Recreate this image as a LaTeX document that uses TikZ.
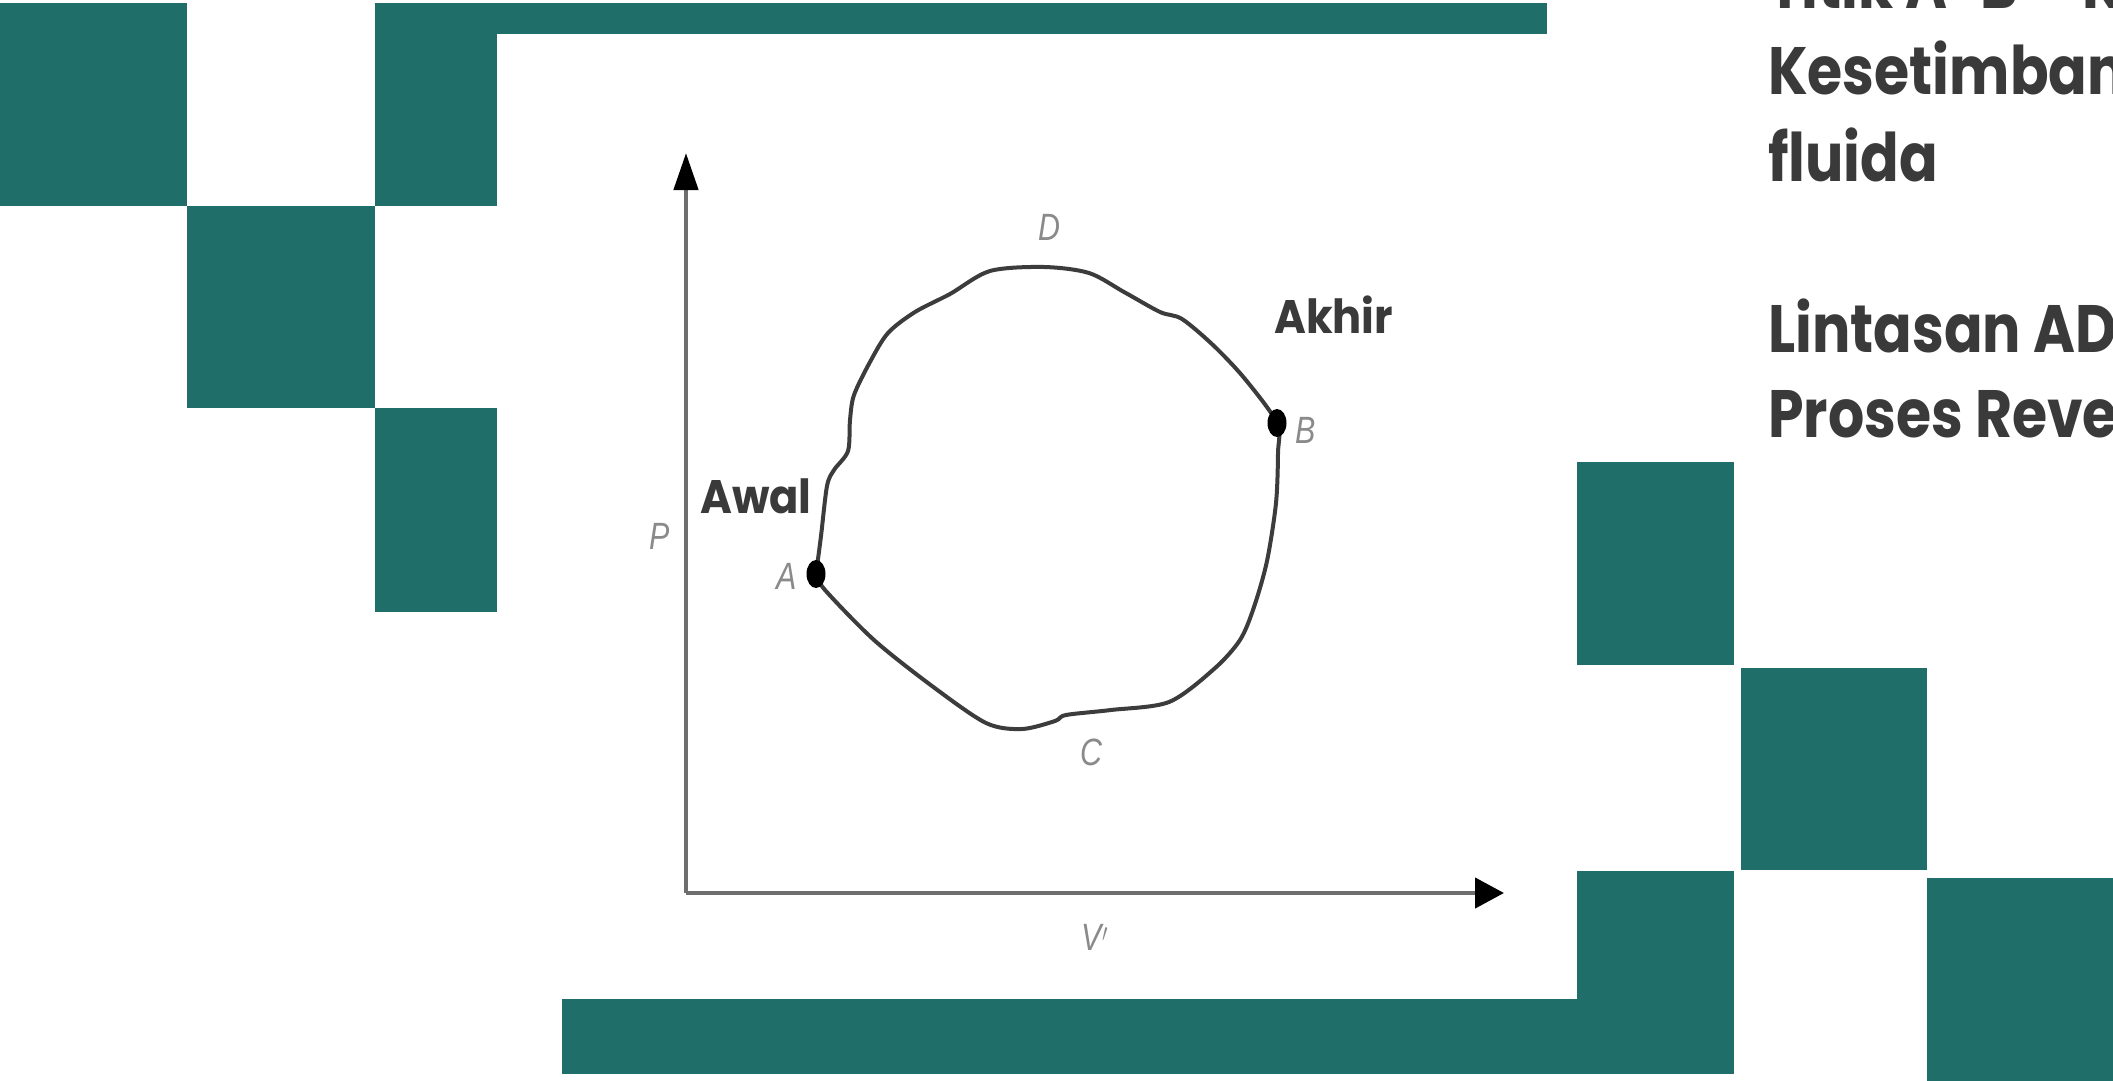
\documentclass[tikz,border=0pt]{standalone}
\usepackage{fontspec}
\usepackage{graphicx}
\usetikzlibrary{arrows.meta,shapes.geometric}
\newfontfamily\futura{Poppins}
\newfontfamily\lblfont{Liberation Sans}
\definecolor{teal}{HTML}{206E69}
\definecolor{txtgray}{HTML}{3A3A3A}
\definecolor{axisgray}{HTML}{6E6E6E}
\definecolor{curvegray}{HTML}{3C3C3C}
\definecolor{lblgray}{HTML}{8A8A8A}
\tikzset{
  block/.style={fill=teal},
  rtext/.style={anchor=base west, inner sep=0pt, text=txtgray,
    font=\futura\bfseries\fontsize{67}{80}\selectfont},
  mtext/.style={anchor=base west, inner sep=0pt, text=txtgray,
    font=\futura\bfseries\fontsize{47}{50}\selectfont},
  letter/.style={inner sep=0pt, text=lblgray,
    font=\lblfont\itshape\fontsize{38}{40}\selectfont},
  axis/.style={draw=axisgray, line width=4.5pt},
  dot/.style={ellipse, fill=black, inner sep=0pt, minimum width=19pt, minimum height=28pt},
  loop/.style={draw=curvegray, line width=4pt, line join=round}
}
\begin{document}
\begin{tikzpicture}[x=1pt,y=-1pt]
\useasboundingbox (0,0) rectangle (2113,1081);
\clip (0,0) rectangle (2113,1081);
\fill[white] (0,0) rectangle (2113,1081);
% left decoration
\fill[block] (0,3) rectangle (187,206);
\fill[block] (375,3) rectangle (1547,34);
\fill[block] (375,3) rectangle (497,206);
\fill[block] (187,206) rectangle (375,408);
\fill[block] (375,408) rectangle (497,612);
% right decoration
\fill[block] (1577,462) rectangle (1734,665);
\fill[block] (1741,668) rectangle (1927,870);
\fill[block] (1577,871) rectangle (1734,1074);
\fill[block] (562,999) rectangle (1734,1074);
\fill[block] (1927,878) rectangle (2113,1081);
% axes
\coordinate (o) at (686,893);
\coordinate (ytop) at (686,153);
\coordinate (xend) at (1504,893);
\draw[axis, -{Triangle[length=37pt,width=24pt,fill=black,color=black]}] (o) -- (ytop);
\draw[axis, -{Triangle[length=29pt,width=30pt,fill=black,color=black]}] (o) -- (xend);
% closed path
\coordinate (pA) at (816,574);
\coordinate (pB) at (1277,423);
\draw[loop] plot[smooth, tension=0.5] coordinates {
 (pA) (821,536) (827,486) (834,470) (848,451) (850,420) (854,395) (870,362)
 (888,333) (915,312) (950,294) (990,271) (1044,267) (1089,273) (1124,292)
 (1160,312) (1182,319) (1214,346) (1245,379) (pB)
 (1278,453) (1276,503) (1267,561) (1254,607) (1240,640) (1214,669)
 (1169,702) (1111,710) (1066,715) (1055,721) (1022,729) (986,723)
 (932,686) (874,640) (825,590) (pA)};
\node[dot] (A) at (pA) {};
\node[dot] (B) at (pB) {};
% letters
\node[letter] (lA) at (787,576) {\scalebox{0.8}[1]{A}};
\node[letter] (lB) at (1306,430) {\scalebox{0.8}[1]{B}};
\node[letter] (lC) at (1091,752) {\scalebox{0.8}[1]{C}};
\node[letter] (lD) at (1049,227) {\scalebox{0.8}[1]{D}};
\node[letter] (lP) at (660,536) {\scalebox{0.8}[1]{P}};
\node[letter] (lV) at (1095,937) {\scalebox{0.8}[1]{V$'$}};
% labels
\node[mtext] (awal) at (700,513.5) {\scalebox{0.92}[1]{Awal}};
\node[mtext] (akhir) at (1274,333) {\scalebox{0.92}[1]{Akhir}};
% right text
\node[rtext] (t1) at (1768,9) {\scalebox{0.85}[1]{Titik A-B = Kondisi}};
\node[rtext] (t2) at (1768,95) {\scalebox{0.85}[1]{Kesetimbangan}};
\node[rtext] (t3) at (1768,181) {\scalebox{0.85}[1]{fluida}};
\node[rtext] (t4) at (1768,352) {\scalebox{0.85}[1]{Lintasan ADB}};
\node[rtext] (t5) at (1768,437) {\scalebox{0.85}[1]{Proses Reversibel}};
\end{tikzpicture}
\end{document}
